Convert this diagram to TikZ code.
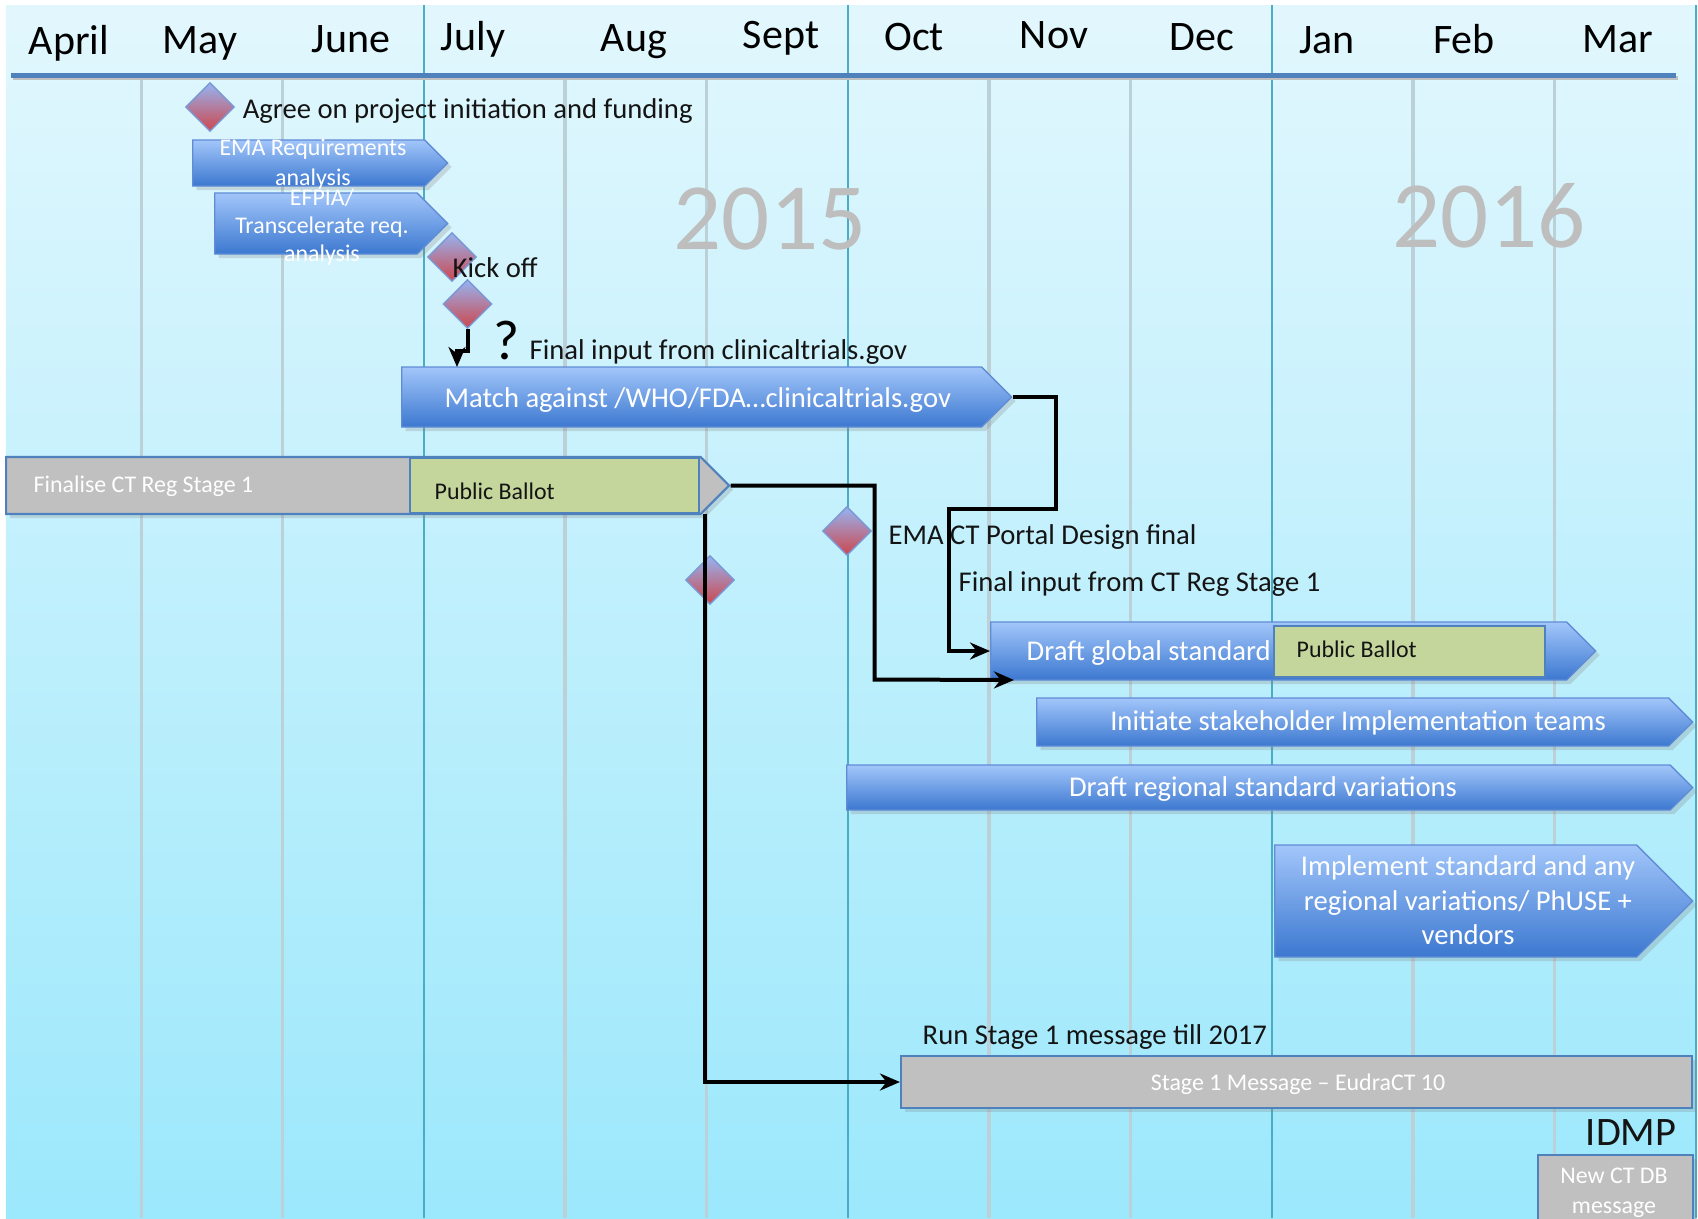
\documentclass[tikz,border=0pt]{standalone}
\usepackage{fontspec}
\setmainfont{Carlito}
\usetikzlibrary{shapes.geometric,shapes.symbols,arrows.meta,shadows,positioning}
\definecolor{skytop}{RGB}{226,247,253}
\definecolor{skybot}{RGB}{156,232,252}
\definecolor{headblue}{RGB}{79,129,189}
\definecolor{yearteal}{RGB}{75,172,198}
\definecolor{monthgrey}{RGB}{188,208,216}
\definecolor{bartop}{RGB}{162,198,250}
\definecolor{barbot}{RGB}{60,120,208}
\definecolor{baredge}{RGB}{96,140,214}
\definecolor{stonegrey}{RGB}{192,192,192}
\definecolor{ballotgreen}{RGB}{196,214,155}
\definecolor{gemtop}{RGB}{150,180,242}
\definecolor{gembot}{RGB}{206,70,76}
\definecolor{gemedge}{RGB}{122,152,212}
\definecolor{yeargrey}{RGB}{190,190,190}
\definecolor{inkblack}{RGB}{20,20,20}
\newcommand{\bodysize}{\fontsize{8.15}{9.8}\selectfont}
\newcommand{\smallsize}{\fontsize{6.8}{8.5}\selectfont}
\newcommand{\tightsize}{\fontsize{6.8}{8}\selectfont}

\begin{document}
\begin{tikzpicture}[x=1cm, y=-1cm,
    task/.style={signal, signal to=east, anchor=west, draw=baredge, line width=0.4pt,
                 top color=bartop, bottom color=barbot, inner sep=0pt,
                 drop shadow={shadow xshift=0.04cm, shadow yshift=-0.04cm, opacity=0.25}},
    stone/.style={signal, signal to=east, anchor=west, draw=headblue, line width=0.6pt,
                  fill=stonegrey, inner sep=0pt,
                  drop shadow={shadow xshift=0.04cm, shadow yshift=-0.04cm, opacity=0.25}},
    stonebox/.style={rectangle, draw=headblue, line width=0.6pt, fill=stonegrey, inner sep=0pt,
                     drop shadow={shadow xshift=0.04cm, shadow yshift=-0.04cm, opacity=0.25}},
    ballot/.style={rectangle, draw=headblue, line width=0.6pt, fill=ballotgreen, inner sep=0pt},
    gem/.style={diamond, draw=gemedge, line width=0.4pt, top color=gemtop, bottom color=gembot,
                inner sep=0pt, minimum width=0.49cm, minimum height=0.49cm},
    note/.style={inner sep=0pt, text=inkblack, font=\bodysize},
    bartext/.style={inner sep=0pt, text=white},
    stonetext/.style={inner sep=0pt, text=white, font=\smallsize},
    ballottext/.style={inner sep=0pt, text=inkblack, font=\smallsize},
    monthlbl/.style={inner sep=0pt, text=black, font=\fontsize{11.95}{14}\selectfont},
    yearlbl/.style={inner sep=0pt, text=yeargrey, font=\fontsize{27}{30}\selectfont},
    query/.style={inner sep=0pt, text=black, font=\fontsize{16}{18}\selectfont},
    link/.style={-{Stealth[length=0.2cm, width=0.17cm]}, line width=0.04cm, black}
]
\useasboundingbox (0,0) rectangle (16.98,12.18);
\fill[top color=skytop, bottom color=skybot] (0.06,0.05) rectangle (16.96,12.18);

\foreach \i in {1,2,4,5,7,8,10,11}
  \draw[monthgrey, line width=0.035cm] ({1.413*\i},0.78) -- ({1.413*\i},12.18);
\foreach \i in {3,6,9,12}
  \draw[yearteal, line width=0.022cm] ({1.413*\i},0.05) -- ({1.413*\i},12.18);
\draw[black!25, line width=0.04cm] (0.13,0.78) -- (16.78,0.78);
\draw[headblue, line width=0.05cm] (0.11,0.75) -- (16.76,0.75);

\foreach \m/\x/\y in {April/0.69/0.54, May/2.00/0.53, June/3.51/0.52, July/4.73/0.50,
                      Aug/6.34/0.51, Sept/7.81/0.48, Oct/9.14/0.50, Nov/10.54/0.48,
                      Dec/12.02/0.50, Jan/13.27/0.53, Feb/14.64/0.53, Mar/16.18/0.52}
  \node[monthlbl, anchor=base] (m-\m) at (\x,\y) {\m};

\node[yearlbl] (y2015) at (7.70,2.19) {2015};
\node[yearlbl] (y2016) at (14.89,2.16) {2016};

% bars
\node[task, minimum width=2.55cm, minimum height=0.46cm] (ema) at (1.92,1.63) {};
\node[bartext, align=center, font=\smallsize] (emalbl) at (3.13,1.64) {EMA Requirements\\analysis};
\node[task, minimum width=2.33cm, minimum height=0.61cm] (efpia) at (2.14,2.235) {};
\node[bartext, align=center, font=\tightsize] (efpialbl) at (3.22,2.27) {EFPIA/\\Transcelerate req.\\analysis};
\node[task, minimum width=6.10cm, minimum height=0.60cm] (match) at (4.01,3.97) {};
\node[bartext, font=\bodysize, anchor=west] (matchlbl) at (4.44,4.00) {Match against /WHO/FDA…clinicaltrials.gov};

\node[stone, minimum width=7.23cm, minimum height=0.57cm] (final) at (0.05,4.855) {};
\node[ballot, minimum width=2.89cm, minimum height=0.55cm] (ballot1) at (5.545,4.855) {};
\node[stonetext, anchor=west] (finallbl) at (0.33,4.86) {Finalise CT Reg Stage 1};
\node[ballottext, anchor=west] (ballot1lbl) at (4.34,4.91) {Public Ballot};

\node[task, minimum width=6.05cm, minimum height=0.58cm] (draft) at (9.90,6.51) {};
\node[ballot, minimum width=2.71cm, minimum height=0.51cm] (ballot2) at (14.095,6.515) {};
\node[bartext, font=\bodysize, anchor=west] (draftlbl) at (10.26,6.53) {Draft global standard};
\node[ballottext, anchor=west] (ballot2lbl) at (12.96,6.49) {Public Ballot};

\node[task, minimum width=6.56cm, minimum height=0.48cm] (initiate) at (10.36,7.22) {};
\node[bartext, font=\bodysize] (initiatelbl) at (13.58,7.23) {Initiate stakeholder Implementation teams};
\node[task, minimum width=8.46cm, minimum height=0.45cm] (regional) at (8.46,7.875) {};
\node[bartext, font=\bodysize] (regionallbl) at (12.63,7.89) {Draft regional standard variations};
\node[task, minimum width=4.18cm, minimum height=1.12cm] (implement) at (12.74,9.01) {};
\node[bartext, align=center, font=\fontsize{8.15}{9.8}\selectfont] (implementlbl) at (14.68,9.005)
  {Implement standard and any\\regional variations/ PhUSE +\\vendors};

\node[stonebox, minimum width=7.91cm, minimum height=0.52cm] (stage1) at (12.965,10.82) {};
\node[stonetext] (stage1lbl) at (12.98,10.84) {Stage 1 Message – EudraCT 10};
\node[stonebox, minimum width=1.55cm, minimum height=0.80cm, anchor=north west] (newdb) at (15.37,11.54) {};
\node[stonetext, align=center] (newdblbl) at (16.14,11.93) {New CT DB\\message};

% milestones
\node[gem] (agree) at (2.10,1.07) {};
\node[gem] (kick) at (4.52,2.57) {};
\node[gem] (clin) at (4.675,3.04) {};
\node[gem] (portal) at (8.47,5.31) {};
\node[gem] (regin) at (7.10,5.80) {};

\node[note, right=0.07cm of agree, yshift=-0.04cm] (agreelbl) {Agree on project initiation and funding};
\node[note, anchor=west] (kicklbl) at ([yshift=-0.11cm]kick.center) {Kick off};
\node[query] (ask) at (5.07,3.40) {?};
\node[note, anchor=west] (clinlbl) at (5.29,3.52) {Final input from clinicaltrials.gov};
\node[note, anchor=west] (portallbl) at (8.88,5.37) {EMA CT Portal Design final};
\node[note, anchor=west] (reglbl) at (9.58,5.84) {Final input from CT Reg Stage 1};
\node[note, anchor=west] (runlbl) at (9.22,10.37) {Run Stage 1 message till 2017};
\node[note, anchor=east, font=\fontsize{11.5}{13}\selectfont] (idmp) at (16.77,11.33) {IDMP};

% links
\draw[link] (clin.south) -- ++(0,0.22) -| ([xshift=0.56cm, yshift=0.30cm]match.west);
\draw[link] (match.east) -- ++(0.43,0) -- ++(0,1.12) -- ++(-1.07,0) |- (draft.west);
\draw[link] (final.east) -| ++(1.44,1.94) -- ([xshift=0.24cm, yshift=-0.29cm]draft.west);
\draw[link] ([xshift=0.05cm]ballot1.south east) |- (stage1.west);
\end{tikzpicture}
\end{document}
